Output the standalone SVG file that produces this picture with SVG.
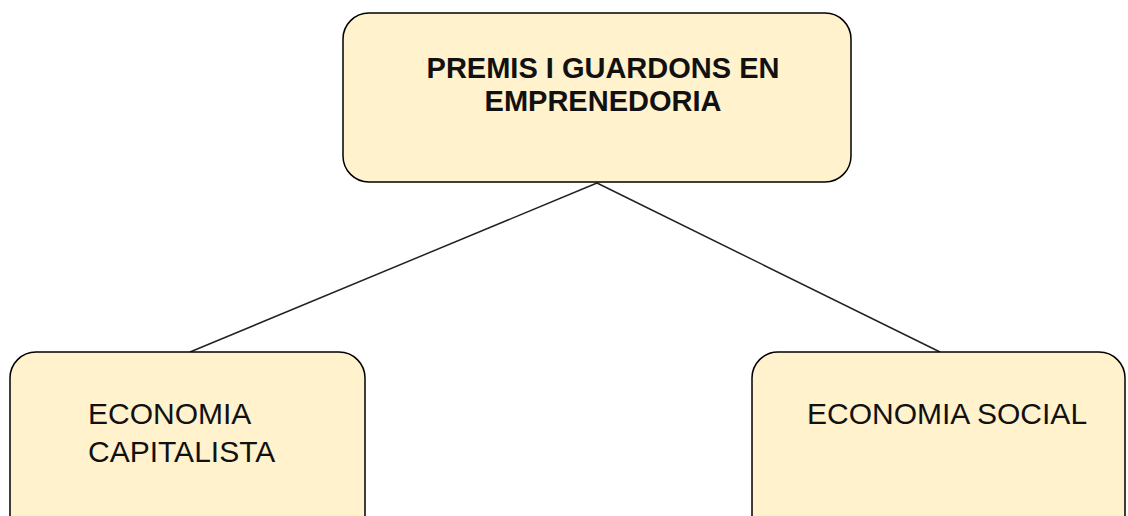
<svg xmlns="http://www.w3.org/2000/svg" width="1128" height="516" viewBox="0 0 1128 516">
<style>
.box{fill:#fff2cc;stroke:#000;stroke-width:1.5}
.t{font-family:"Liberation Sans",Arial,sans-serif;font-size:30px;fill:#111}
.b{font-weight:bold;font-size:29px}
.c{stroke:#222;stroke-width:1.5;fill:none}
</style>
<rect width="1128" height="516" fill="#fff"/>
<g id="connectors">
<line class="c" x1="597" y1="183" x2="190" y2="352"/>
<line class="c" x1="597" y1="183" x2="940" y2="352"/>
</g>
<g id="node-premis">
<rect class="box" x="343" y="13" width="508" height="169" rx="26"/>
<text class="t b" x="603" y="78" text-anchor="middle">PREMIS I GUARDONS EN</text>
<text class="t b" x="603" y="111" text-anchor="middle">EMPRENEDORIA</text>
</g>
<g id="node-capitalista">
<rect class="box" x="10" y="352" width="355" height="190" rx="26"/>
<text class="t" x="88" y="424">ECONOMIA</text>
<text class="t" x="88" y="462">CAPITALISTA</text>
</g>
<g id="node-social">
<rect class="box" x="752" y="352" width="373" height="190" rx="26"/>
<text class="t" x="807" y="424">ECONOMIA SOCIAL</text>
</g>
</svg>
